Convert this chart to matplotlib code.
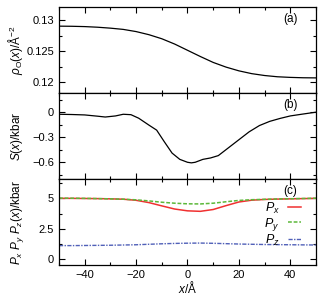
import matplotlib; matplotlib.use('Agg')
import matplotlib.pyplot as plt
from matplotlib.ticker import MultipleLocator
from matplotlib import rcParams

rcParams.update({'font.family': 'Liberation Sans', 'font.size': 8,
                 'mathtext.fontset': 'custom', 'mathtext.rm': 'Liberation Sans',
                 'mathtext.it': 'Liberation Sans:italic', 'mathtext.sf': 'Liberation Sans',
                 'axes.linewidth': 0.9})

# panel (a): density
xa = [-50, -45, -40, -35, -30, -25, -20, -15, -10, -5, 0, 5, 10, 15, 20, 25, 30, 35, 40, 45, 50]
rho = [0.12902, 0.12900, 0.12895, 0.12885, 0.12870, 0.12850, 0.12815, 0.12765, 0.12700, 0.12615,
       0.12515, 0.12415, 0.12320, 0.12245, 0.12185, 0.12140, 0.12110, 0.12090, 0.12080, 0.12074, 0.12072]

# panel (b): S(x)
xb = [-50, -45, -40, -35, -32, -28, -25, -22, -19, -15, -12, -9, -6, -3, 0, 1.5, 3, 6, 9, 12,
      16, 20, 24, 28, 32, 36, 40, 45, 50]
S = [-0.025, -0.028, -0.033, -0.048, -0.058, -0.045, -0.025, -0.030, -0.072, -0.155, -0.215,
     -0.355, -0.490, -0.565, -0.600, -0.607, -0.600, -0.565, -0.548, -0.520, -0.425, -0.330,
     -0.235, -0.160, -0.110, -0.075, -0.045, -0.022, 0.000]

# panel (c): pressure components
xc = [-50, -45, -40, -35, -30, -25, -20, -15, -10, -5, 0, 5, 10, 15, 20, 25, 30, 35, 40, 45, 50]
Px = [5.00, 5.00, 4.99, 4.98, 4.96, 4.93, 4.84, 4.65, 4.38, 4.12, 3.97, 3.93, 4.08, 4.40, 4.70,
      4.85, 4.91, 4.94, 4.96, 4.98, 5.00]
Py = [5.02, 5.01, 5.00, 4.98, 4.96, 4.93, 4.88, 4.79, 4.68, 4.60, 4.55, 4.54, 4.60, 4.72, 4.83,
      4.89, 4.92, 4.95, 4.97, 4.99, 5.01]
Pz = [1.10, 1.10, 1.11, 1.12, 1.13, 1.15, 1.17, 1.21, 1.25, 1.28, 1.30, 1.31, 1.29, 1.26, 1.23,
      1.21, 1.19, 1.18, 1.17, 1.16, 1.15]

fig = plt.figure(figsize=(3.25, 3.0), dpi=100)
L, W, H = 0.1815, 0.7908, 0.2867
axa = fig.add_axes([L, 0.1167 + 2*H, W, H])
axb = fig.add_axes([L, 0.1167 + H, W, H])
axc = fig.add_axes([L, 0.1167, W, H])

for a in (axa, axb, axc):
    a.set_xlim(-50, 50)
    a.xaxis.set_major_locator(MultipleLocator(20))
    a.xaxis.set_minor_locator(MultipleLocator(10))
    a.tick_params(which='both', direction='in', top=True, right=True, width=0.8)
    a.tick_params(which='major', length=4.5, labelsize=8)
    a.tick_params(which='minor', length=2.5)
for a in (axa, axb):
    a.tick_params(labelbottom=False)

axa.plot(xa, rho, color='k', lw=0.9)
axa.set_ylim(0.1183, 0.1321)
axa.set_yticks([0.12, 0.125, 0.13], ['0.12', '0.125', '0.13'])
axa.yaxis.set_minor_locator(MultipleLocator(0.0025))
axa.set_ylabel(r'$\rho_{\mathrm{O}}(x)$/Å$^{-2}$', fontsize=8.5, labelpad=1)
axa.text(0.90, 0.86, '(a)', transform=axa.transAxes, ha='center', va='center', fontsize=8.5)

axb.plot(xb, S, color='k', lw=0.9)
axb.set_ylim(-0.8, 0.23)
axb.set_yticks([-0.6, -0.3, 0], ['\u22120.6', '\u22120.3', '0'])
axb.yaxis.set_minor_locator(MultipleLocator(0.15))
axb.set_ylabel(r'$S(x)$/kbar', fontsize=8.5, labelpad=5)
axb.text(0.90, 0.86, '(b)', transform=axb.transAxes, ha='center', va='center', fontsize=8.5)

axc.plot(xc, Px, color='#f03030', lw=1.1, label=r'$P_x$')
axc.plot(xc, Py, color='#5cb83a', lw=1.1, ls=(0, (2.5, 1.2)), label=r'$P_y$')
axc.plot(xc, Pz, color='#5060b8', lw=1.0, ls=(0, (3, 1, 1, 1)), label=r'$P_z$')
axc.set_ylim(-0.5, 6.6)
axc.set_yticks([0, 2.5, 5], ['0', '2.5', '5'])
axc.yaxis.set_minor_locator(MultipleLocator(1.25))
axc.set_ylabel(r'$P_x\ P_y\ P_z(x)$/kbar', fontsize=8.5, labelpad=9)
axc.set_xlabel(r'$x$/Å', fontsize=8.5, labelpad=0)
axc.set_xticks([-40, -20, 0, 20, 40], ['\u221240', '\u221220', '0', '20', '40'])
axc.text(0.90, 0.86, '(c)', transform=axc.transAxes, ha='center', va='center', fontsize=8.5)
axc.legend(loc='upper right', bbox_to_anchor=(0.965, 0.82), frameon=False, markerfirst=False,
           fontsize=9, handlelength=1.0, handletextpad=0.7, labelspacing=0.0, borderpad=0)

fig.savefig('out.png', dpi=100, facecolor='white')
